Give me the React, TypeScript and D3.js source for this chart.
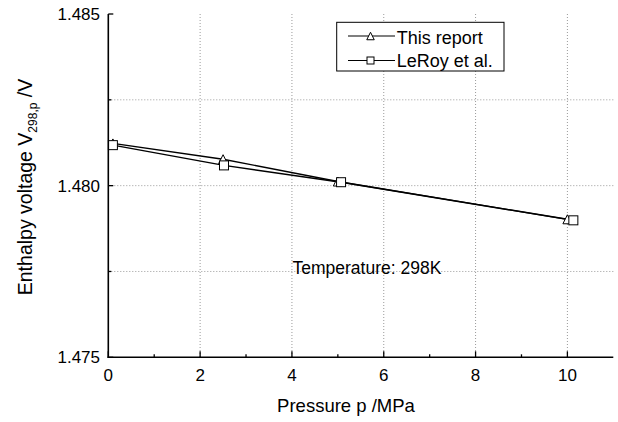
import React from "react";
import * as d3 from "d3";

const pressureThis = [0.1, 2.5, 5.0, 10.0];
const voltageThis = [1.48123, 1.48077, 1.48012, 1.47902];
const pressureLeRoy = [0.1, 2.52, 5.07, 10.13];
const voltageLeRoy = [1.48118, 1.48059, 1.4801, 1.47899];
const xTicks = [0, 2, 4, 6, 8, 10];
const xMinor = [1, 3, 5, 7, 9];
const yTicks = [1.475, 1.48, 1.485];
const yMinor = [1.4775, 1.4825];
const seriesNames = ["This report", "LeRoy et al."];

const W = 618;
const H = 422;
const FONT = "'Liberation Sans', Arial, Helvetica, sans-serif";

export default function App() {
  const x = d3.scaleLinear().domain([0, 11]).range([108.3, 613.3]);
  const y = d3.scaleLinear().domain([1.475, 1.485]).range([357.3, 14]);
  const line = d3
    .line<[number, number]>()
    .x((d) => x(d[0]))
    .y((d) => y(d[1]));
  const ptsThis: [number, number][] = pressureThis.map((p, i) => [p, voltageThis[i]]);
  const ptsLe: [number, number][] = pressureLeRoy.map((p, i) => [p, voltageLeRoy[i]]);
  const x0 = x(0);
  const y0 = y(1.475);
  const xEnd = x(11);
  const yTop = y(1.485);

  const tri = (cx: number, cy: number, s: number) =>
    `M${cx},${cy - s / 2}L${cx + s / 2},${cy + s / 2}L${cx - s / 2},${cy + s / 2}Z`;

  return (
    <svg
      width={W}
      height={H}
      style={{ position: "absolute", left: 0, top: 0, background: "#fff" }}
      fontFamily={FONT}
    >
      <rect x={0} y={0} width={W} height={H} fill="#fff" />
      {/* grid */}
      <g stroke="#9a9a9a" strokeWidth={1} strokeDasharray="1,2">
        {xTicks
          .filter((t) => t > 0)
          .map((t) => (
            <line key={"gx" + t} x1={x(t)} x2={x(t)} y1={yTop} y2={y0} />
          ))}
        {[1.4775, 1.48, 1.4825].map((t) => (
          <line key={"gy" + t} x1={x0} x2={xEnd} y1={y(t)} y2={y(t)} />
        ))}
      </g>
      {/* series lines */}
      <path d={line(ptsThis) || ""} fill="none" stroke="#000" strokeWidth={1.4} />
      <path d={line(ptsLe) || ""} fill="none" stroke="#000" strokeWidth={1.4} />
      {ptsThis.map((d, i) => (
        <path key={"t" + i} d={tri(x(d[0]), y(d[1]), 9)} fill="#fff" stroke="#000" strokeWidth={1} />
      ))}
      {ptsLe.map((d, i) => (
        <rect
          key={"s" + i}
          x={x(d[0]) - 4.5}
          y={y(d[1]) - 4.5}
          width={9}
          height={9}
          fill="#fff"
          stroke="#000"
          strokeWidth={1}
        />
      ))}
      {/* axes */}
      <g stroke="#000" strokeWidth={1.6}>
        <line x1={x0} x2={x0} y1={yTop} y2={y0 + 0.8} />
        <line x1={x0 - 0.8} x2={xEnd} y1={y0} y2={y0} />
      </g>
      <g stroke="#000" strokeWidth={1.3}>
        {xTicks.map((t) => (
          <line key={"xt" + t} x1={x(t)} x2={x(t)} y1={y0} y2={y0 - 6} />
        ))}
        {xMinor.map((t) => (
          <line key={"xm" + t} x1={x(t)} x2={x(t)} y1={y0} y2={y0 - 3} />
        ))}
        {yTicks.map((t) => (
          <line key={"yt" + t} x1={x0} x2={x0 + 5} y1={y(t)} y2={y(t)} />
        ))}
        {yMinor.map((t) => (
          <line key={"ym" + t} x1={x0} x2={x0 + 3} y1={y(t)} y2={y(t)} />
        ))}
      </g>
      {/* tick labels */}
      <g fontSize={17} fill="#000">
        {xTicks.map((t) => (
          <text key={"xl" + t} x={x(t)} y={381} textAnchor="middle">
            {d3.format("d")(t)}
          </text>
        ))}
        {yTicks.map((t) => (
          <text key={"yl" + t} x={100} y={y(t) + 6} textAnchor="end">
            {d3.format(".3f")(t)}
          </text>
        ))}
      </g>
      {/* axis titles */}
      <text x={346} y={412} fontSize={18.5} textAnchor="middle">
        Pressure p /MPa
      </text>
      <text transform="translate(31.5,187) rotate(-90)" fontSize={19.5} textAnchor="middle">
        Enthalpy voltage V
        <tspan fontSize={12} dy={5}>
          298,p
        </tspan>
        <tspan dy={-5}> /V</tspan>
      </text>
      {/* annotation */}
      <text x={292.5} y={274} fontSize={17.5}>
        Temperature: 298K
      </text>
      {/* legend */}
      <rect x={336.7} y={22.3} width={167.3} height={48.7} fill="#fff" stroke="#000" strokeWidth={1} />
      <line x1={348} x2={395} y1={36} y2={36} stroke="#000" strokeWidth={1.2} />
      <path d={tri(370.5, 36, 7.5)} fill="#fff" stroke="#000" strokeWidth={1} />
      <text x={396.7} y={43.7} fontSize={18}>
        {seriesNames[0]}
      </text>
      <line x1={348} x2={395} y1={60.5} y2={60.5} stroke="#000" strokeWidth={1.2} />
      <rect x={367} y={57} width={7} height={7} fill="#fff" stroke="#000" strokeWidth={1} />
      <text x={396.7} y={66.5} fontSize={18}>
        {seriesNames[1]}
      </text>
    </svg>
  );
}
